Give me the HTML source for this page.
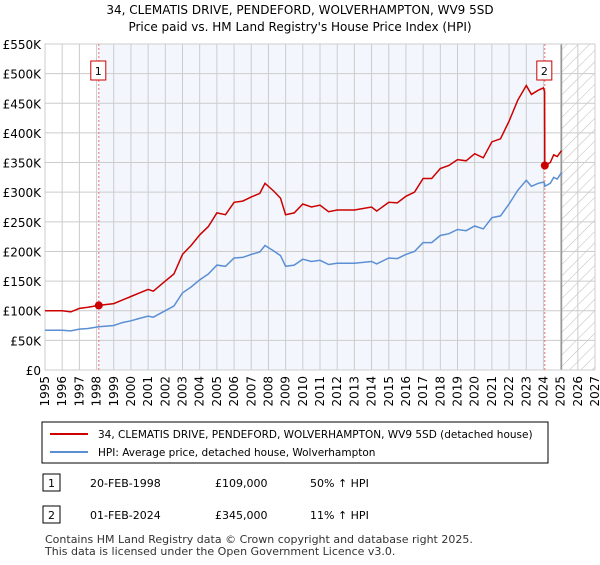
<!DOCTYPE html>
<html><head><meta charset="utf-8"><style>
body{margin:0;background:#fff;font-family:"Liberation Sans","DejaVu Sans",sans-serif;}
svg text{font-family:"DejaVu Sans","Liberation Sans",sans-serif;}
</style></head><body>
<svg id="c" width="600" height="560" xmlns="http://www.w3.org/2000/svg">
<defs><pattern id="hatch" width="8" height="8" patternUnits="userSpaceOnUse" patternTransform="rotate(45)"><line x1="0" y1="0" x2="0" y2="8" stroke="#bbb" stroke-width="1"/></pattern></defs>
<text x="300" y="14" text-anchor="middle" font-size="12">34, CLEMATIS DRIVE, PENDEFORD, WOLVERHAMPTON, WV9 5SD</text>
<text x="300" y="31" text-anchor="middle" font-size="12">Price paid vs. HM Land Registry's House Price Index (HPI)</text>
<g id="plot"></g>
<rect x="42" y="422" width="506" height="41" fill="#fff" stroke="#000"/>
<line x1="50" y1="434" x2="88" y2="434" stroke="#cc0000" stroke-width="2"/>
<text x="98" y="438" font-size="10.5">34, CLEMATIS DRIVE, PENDEFORD, WOLVERHAMPTON, WV9 5SD (detached house)</text>
<line x1="50" y1="452" x2="88" y2="452" stroke="#5b8fd4" stroke-width="2"/>
<text x="98" y="456" font-size="10.5">HPI: Average price, detached house, Wolverhampton</text>
<rect x="43" y="474" width="17" height="17" fill="#fff" stroke="#000"/>
<text x="51.5" y="487" text-anchor="middle" font-size="11">1</text>
<text x="90" y="487" font-size="11">20-FEB-1998</text>
<text x="215" y="487" font-size="11">£109,000</text>
<text x="310" y="487" font-size="11">50% ↑ HPI</text>
<rect x="43" y="506" width="17" height="17" fill="#fff" stroke="#000"/>
<text x="51.5" y="519" text-anchor="middle" font-size="11">2</text>
<text x="90" y="519" font-size="11">01-FEB-2024</text>
<text x="215" y="519" font-size="11">£345,000</text>
<text x="310" y="519" font-size="11">11% ↑ HPI</text>
<text x="45" y="543" font-size="11" fill="#333">Contains HM Land Registry data © Crown copyright and database right 2025.</text>
<text x="45" y="555" font-size="11" fill="#333">This data is licensed under the Open Government Licence v3.0.</text>
</svg>
<script>
const years=[1995,1996,1996.5,1997,1997.5,1998.13,1999,1999.5,2000,2000.5,2001,2001.3,2002,2002.5,2003,2003.5,2004,2004.5,2005,2005.5,2006,2006.5,2007,2007.5,2007.8,2008.3,2008.7,2009,2009.5,2010,2010.5,2011,2011.5,2012,2013,2014,2014.3,2015,2015.5,2016,2016.5,2017,2017.5,2018,2018.5,2019,2019.5,2020,2020.5,2021,2021.5,2022,2022.5,2023,2023.3,2023.7,2024,2024.07,2024.08,2024.4,2024.6,2024.8,2025.05];
const priceK=[100,100,98,104,106,109,112,118,124,130,136,133,150,162,195,210,228,242,265,262,283,285,292,298,315,302,290,262,265,280,275,278,267,270,270,275,268,283,282,293,300,323,323,340,345,355,353,365,358,385,390,420,455,480,465,472,476,470,345,350,363,360,370];
const hpiK=[67,67,66,69,70,73,75,80,83,87,91,89,100,108,130,140,152,162,177,175,189,190,195,199,210,201,193,175,177,187,183,185,178,180,180,183,179,189,188,195,200,215,215,227,230,237,235,243,238,257,260,280,303,320,310,315,317,315,310,315,325,322,333];
const sales=[{n:"1",year:1998.13,price:109},{n:"2",year:2024.08,price:345}];
const yTicks=[0,50,100,150,200,250,300,350,400,450,500,550];
const xTicks=[1995,1996,1997,1998,1999,2000,2001,2002,2003,2004,2005,2006,2007,2008,2009,2010,2011,2012,2013,2014,2015,2016,2017,2018,2019,2020,2021,2022,2023,2024,2025,2026,2027];
const X0=45,X1=595,Y0=370,Y1=44;
const sx=y=>X0+(y-1995)/(2027-1995)*(X1-X0);
const sy=v=>Y0-v/550*(Y0-Y1);
const NS="http://www.w3.org/2000/svg";
const g=document.getElementById('plot');
function mk(t,a){const e=document.createElementNS(NS,t);for(const k in a)e.setAttribute(k,a[k]);g.appendChild(e);return e;}
let r=mk('rect',{x:sx(1998.13),y:Y1,width:sx(2024.08)-sx(1998.13),height:Y0-Y1,fill:'#eef3fc',opacity:0.7});


r=mk('rect',{x:sx(2025.05),y:Y1,width:X1-sx(2025.05),height:Y0-Y1,fill:'url(#hatch)'});


yTicks.forEach(v=>{
 const l=mk('line',{x1:X0,x2:X1,y1:sy(v),y2:sy(v),stroke:'#ccc'});
 
 
 const t=mk('text',{x:X0-4,y:sy(v)+5,'text-anchor':'end','font-size':'12'});
 t.textContent=v===0?'£0':'£'+v+'K';
 
 
});
xTicks.forEach(y=>{
 const l=mk('line',{x1:sx(y),x2:sx(y),y1:Y1,y2:Y0,stroke:'#ccc'});
 
 
 const t=mk('text',{x:0,y:0,'font-size':'12','text-anchor':'end',transform:`translate(${sx(y)+4},${Y0+6}) rotate(-90)`});
 t.textContent=y;
 
 
});
r=mk('line',{x1:sx(2025.05),x2:sx(2025.05),y1:Y1,y2:Y0,stroke:'#999','stroke-width':1.5});


r=mk('rect',{x:X0,y:Y1,width:X1-X0,height:Y0-Y1,fill:'none',stroke:'#ccc'});


sales.forEach(s=>{
 const l=mk('line',{x1:sx(s.year),x2:sx(s.year),y1:Y1,y2:Y0,stroke:'#f07070','stroke-dasharray':'2,2'});
 
 
});
const pts=a=>years.map((y,i)=>sx(y).toFixed(1)+','+sy(a[i]).toFixed(1)).join(' ');
let p=mk('polyline',{points:pts(hpiK),fill:'none',stroke:'#5b8fd4','stroke-width':1.5});


p=mk('polyline',{points:pts(priceK),fill:'none',stroke:'#cc0000','stroke-width':1.5});


sales.forEach(s=>{
 const c=mk('circle',{cx:sx(s.year),cy:sy(s.price),r:4,fill:'#cc0000'});
 
 
 const b=mk('rect',{x:sx(s.year)-8,y:61,width:15,height:19,fill:'#fff',stroke:'#cc0000'});
 
 
 const t=mk('text',{x:sx(s.year)-0.5,y:75,'text-anchor':'middle','font-size':'11'});
 t.textContent=s.n;
 
 
});
</script>
</body></html>
